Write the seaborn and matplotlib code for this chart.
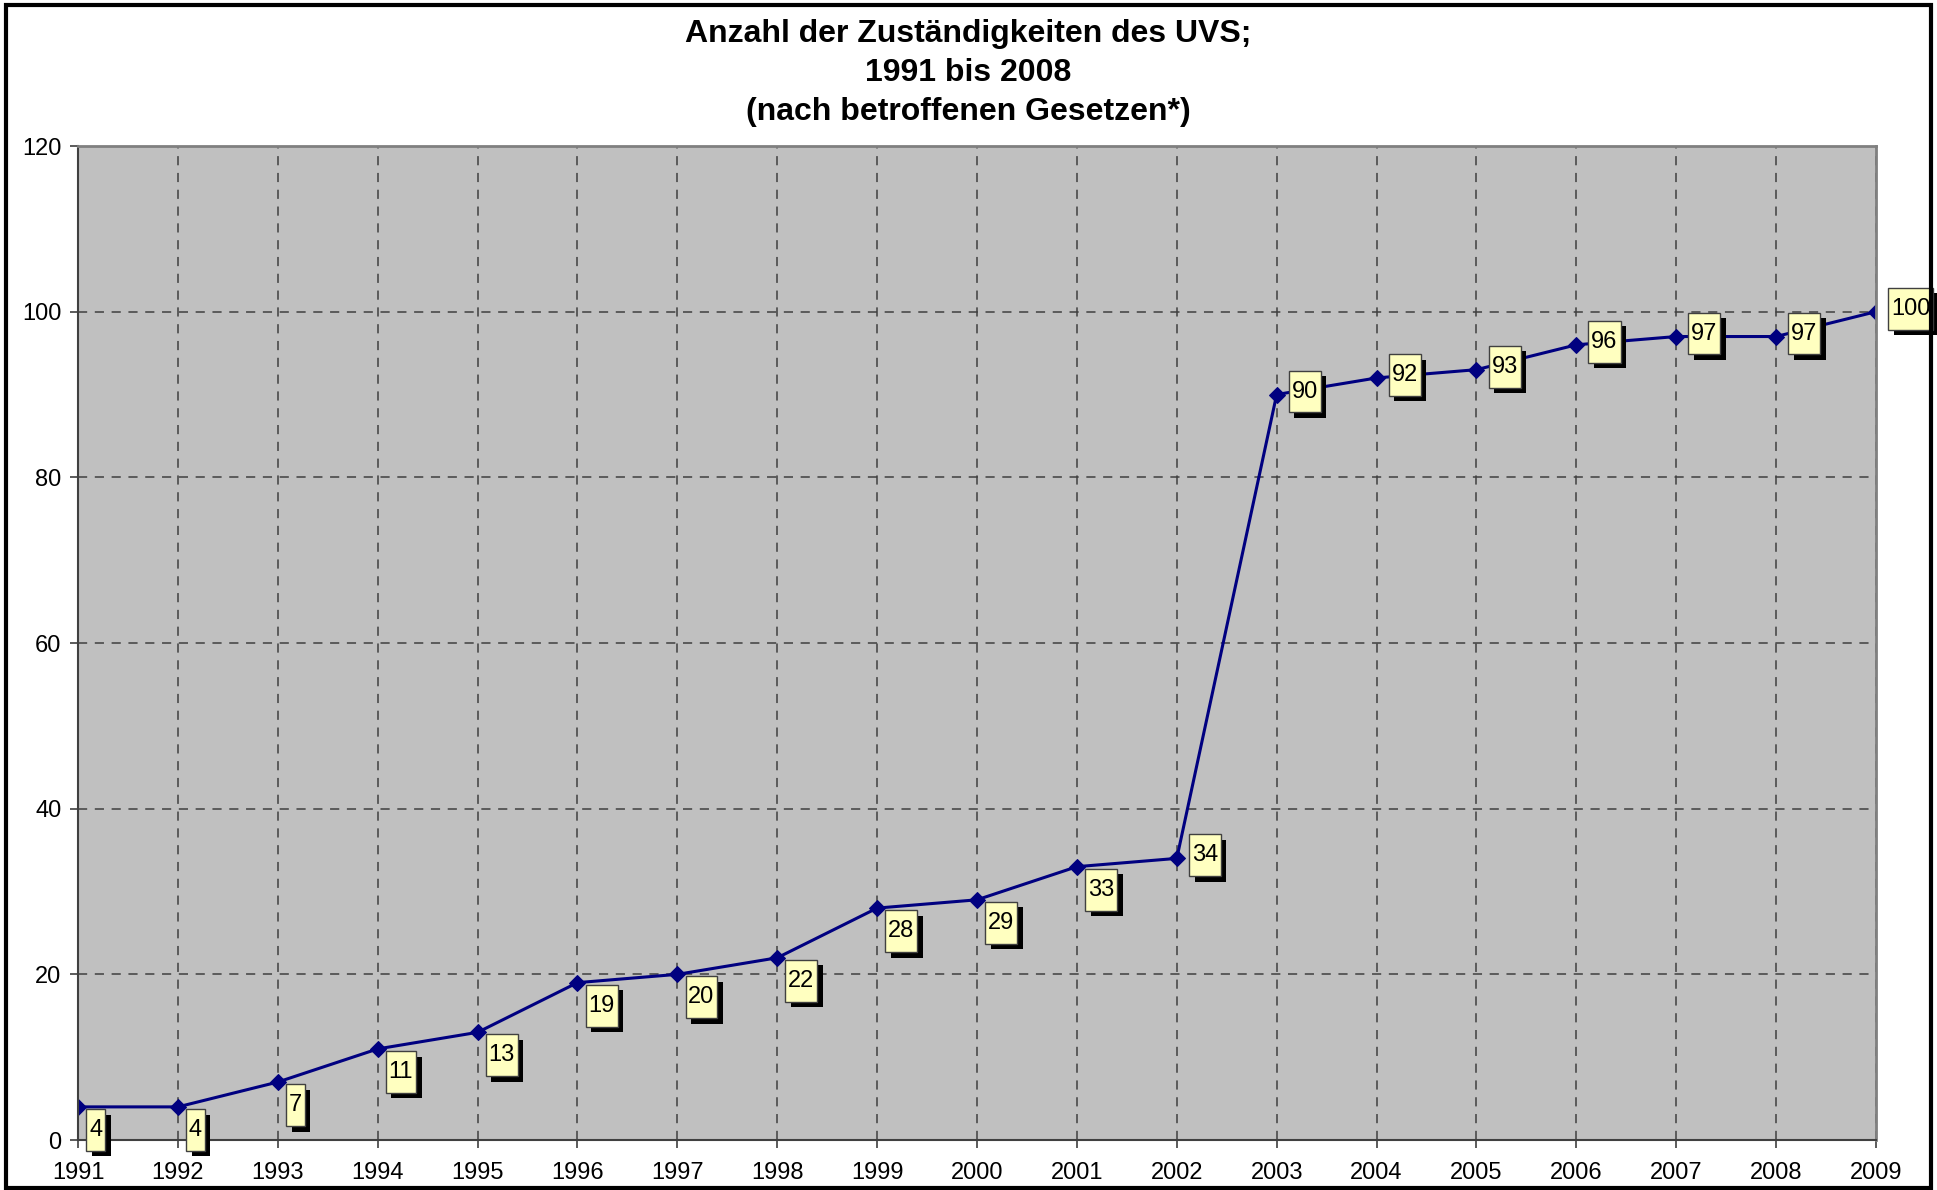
import seaborn as sns
import pandas as pd
import matplotlib.pyplot as plt
import matplotlib.patheffects as pe
from matplotlib.patches import Rectangle
from matplotlib.path import Path

years = list(range(1991, 2010))
counts = [4, 4, 7, 11, 13, 19, 20, 22, 28, 29, 33, 34, 90, 92, 93, 96, 97, 97, 100]

df = pd.DataFrame({"Jahr": years, "Zuständigkeiten": counts})

sns.set_style("white")
plt.rcParams["font.family"] = ["Liberation Sans", "DejaVu Sans"]
plt.rcParams["text.color"] = "black"
plt.rcParams["xtick.labelcolor"] = "black"
plt.rcParams["ytick.labelcolor"] = "black"


def tall_box(x0, y0, width, height, mutation_size):
    # narrow side padding, tall top/bottom padding like the excel data labels
    px, py = 0.12 * mutation_size, 0.42 * mutation_size
    x0, y0 = x0 - px, y0 - py
    x1, y1 = x0 + width + 2 * px, y0 + height + 2 * py
    return Path([(x0, y0), (x1, y0), (x1, y1), (x0, y1), (x0, y0)], closed=True)


fig = plt.figure(figsize=(19.37, 11.90), dpi=100)
ax = fig.add_axes([0.0403, 0.042, 0.9282, 0.8353])
ax.set_facecolor("#C0C0C0")

sns.lineplot(data=df, x="Jahr", y="Zuständigkeiten", ax=ax, color="#000080",
             linewidth=2.2, marker="D", markersize=8, markeredgecolor="#000080")

ax.set_xlim(1991, 2009)
ax.set_ylim(0, 120)
ax.set_xticks(years)
ax.set_yticks(range(0, 121, 20))
ax.tick_params(axis="both", labelsize=17, length=6, width=1.2, color="#404040",
               labelcolor="black", direction="out", bottom=True, left=True)
ax.tick_params(axis="x", pad=10)
ax.tick_params(axis="y", pad=6)
ax.set_xlabel("")
ax.set_ylabel("")
ax.grid(True, color="#404040", linestyle=(0, (6, 5)), linewidth=1.1)
for side in ["top", "right"]:
    ax.spines[side].set_color("#808080")
    ax.spines[side].set_linewidth(2)
for side in ["left", "bottom"]:
    ax.spines[side].set_color("#404040")
    ax.spines[side].set_linewidth(1.5)

# data labels: below-right for the early years, to the right from 2002 on
for yr, val in zip(years, counts):
    if yr < 2002:
        off, va = (11, -12), "top"
    else:
        off, va = (15, 3), "center"
    t = ax.annotate(str(val), (yr, val), xytext=off, textcoords="offset pixels",
                    ha="left", va=va, fontsize=17, color="black",
                    annotation_clip=False,
                    bbox=dict(boxstyle=tall_box, fc="#FFFFC0",
                              ec="#404040", lw=1))
    t.get_bbox_patch().set_path_effects(
        [pe.SimplePatchShadow(offset=(4, -4), shadow_rgbFace="black", alpha=1),
         pe.Normal()])

fig.text(0.5, 0.984, "Anzahl der Zuständigkeiten des UVS;\n1991 bis 2008\n(nach betroffenen Gesetzen*)",
         ha="center", va="top", fontsize=23, fontweight="bold", linespacing=1.4)

fig.patches.append(Rectangle((0.003, 0.002), 0.994, 0.994, transform=fig.transFigure,
                             fill=False, ec="black", lw=3))

fig.savefig("out.png", dpi=100)
